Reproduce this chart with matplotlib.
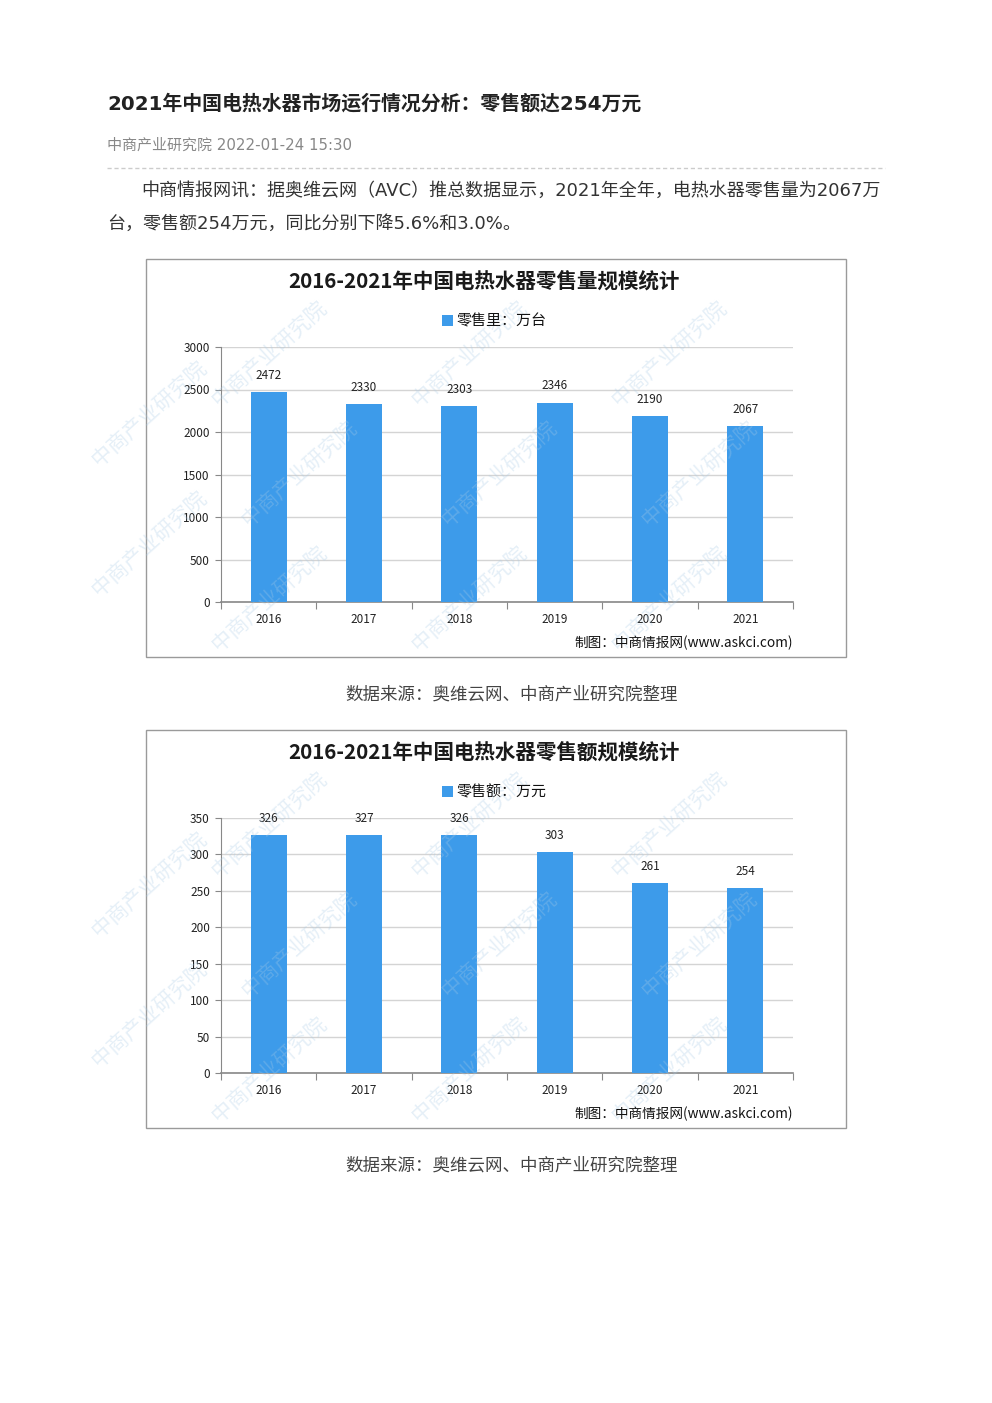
import matplotlib
matplotlib.use('Agg')
import matplotlib.pyplot as plt
from matplotlib.patches import Rectangle
from matplotlib.lines import Line2D

plt.rcParams['font.family'] = ['Noto Sans CJK SC', 'DejaVu Sans']
PAGE_FONT = ['DejaVu Sans', 'Noto Sans CJK SC']   # latin glyphs wider, like the page

# data
years = ['2016', '2017', '2018', '2019', '2020', '2021']
volume = [2472, 2330, 2303, 2346, 2190, 2067]      # 万台
revenue = [326, 327, 326, 303, 261, 254]           # 万元
volume_ticks = [0, 500, 1000, 1500, 2000, 2500, 3000]
revenue_ticks = [0, 50, 100, 150, 200, 250, 300, 350]

page_title = '2021年中国电热水器市场运行情况分析：零售额达254万元'
meta = '中商产业研究院 2022-01-24 15:30'
para1 = '中商情报网讯：据奥维云网（AVC）推总数据显示，2021年全年，电热水器零售量为2067万'
para2 = '台，零售额254万元，同比分别下降5.6%和3.0%。'
caption = '数据来源：奥维云网、中商产业研究院整理'

W, H = 992, 1403
BAR = '#3D9BEA'
fig = plt.figure(figsize=(W / 100, H / 100), dpi=100)


def px(x, y):
    # page pixel -> figure fraction
    return x / W, 1 - y / H


def chart(top, title, legend, values, ticks):
    # outer frame of the chart image
    fx, fy = px(146, top + 398)
    fig.patches.append(Rectangle((fx, fy), 700 / W, 398 / H, transform=fig.transFigure,
                                 fill=False, ec='#9a9a9a', lw=1.0))
    # faint watermarks
    for wx, wy in [(270, 95), (470, 95), (670, 95), (300, 215), (500, 215), (700, 215),
                   (270, 340), (470, 340), (670, 340), (150, 155), (150, 285)]:
        tx, ty = px(wx, top + wy)
        fig.text(tx, ty, '中商产业研究院', rotation=42, fontsize=15, color='#a9cbe6',
                 alpha=0.3, ha='center', va='center')
    tx, ty = px(484, top + 22)
    fig.text(tx, ty, title, ha='center', va='center', fontsize=14.8, fontweight='bold',
             color='#1a1a1a')
    lx, ly = px(442, top + 67)
    fig.patches.append(Rectangle((lx, ly), 11 / W, 11 / H, transform=fig.transFigure,
                                 fc=BAR, ec='none'))
    tx, ty = px(456, top + 62)
    fig.text(tx, ty, legend, ha='left', va='center', fontsize=10.8, color='#111111')
    tx, ty = px(793, top + 384)
    fig.text(tx, ty, '制图：中商情报网(www.askci.com)', ha='right', va='center',
             fontsize=9.8, color='#111111')

    bx, by = px(221, top + 343)
    ax = fig.add_axes([bx, by, 572 / W, 255 / H])
    ax.set_facecolor('none')
    x = range(len(years))
    ax.bar(x, values, width=0.38, color=BAR, zorder=3)
    ax.set_ylim(ticks[0], ticks[-1])
    ax.set_xlim(-0.5, len(years) - 0.5)
    ax.set_yticks(ticks)
    ax.set_yticklabels([str(t) for t in ticks], fontsize=8.5, color='#222222')
    ax.yaxis.grid(True, color='#d4d4d4', lw=1.0, zorder=0)
    ax.set_xticks([i - 0.5 for i in range(len(years) + 1)])
    ax.set_xticklabels([])
    ax.tick_params(axis='x', length=5, color='#888888', direction='out')
    ax.tick_params(axis='y', length=4, color='#888888', pad=4)
    for i, y in enumerate(years):
        ax.text(i, -0.07, y, transform=ax.get_xaxis_transform(), ha='center', va='center',
                fontsize=8.5, color='#222222')
    for i, v in enumerate(values):
        ax.annotate(str(v), (i, v), xytext=(0, 12), textcoords='offset points',
                    ha='center', va='center', fontsize=8.5, color='#222222')
    for s in ['top', 'right']:
        ax.spines[s].set_visible(False)
    ax.spines['left'].set_color('#888888')
    ax.spines['bottom'].set_color('#888888')
    ax.spines['bottom'].set_linewidth(1.2)
    return ax


# page header
tx, ty = px(107, 104)
fig.text(tx, ty, page_title, ha='left', va='center', fontsize=14.35, fontweight='bold',
         color='#222222', family=PAGE_FONT)
tx, ty = px(107, 145)
fig.text(tx, ty, meta, ha='left', va='center', fontsize=10.8, color='#888888', family=PAGE_FONT)
x0, y0 = px(107, 168)
x1, _ = px(885, 168)
fig.lines.append(Line2D([x0, x1], [y0, y0], transform=fig.transFigure, color='#cccccc',
                        lw=1.0, ls=(0, (3, 2))))
tx, ty = px(141, 191)
fig.text(tx, ty, para1, ha='left', va='center', fontsize=13.0, color='#333333', family=PAGE_FONT)
tx, ty = px(107, 224)
fig.text(tx, ty, para2, ha='left', va='center', fontsize=13.0, color='#333333', family=PAGE_FONT)

chart(259, '2016-2021年中国电热水器零售量规模统计', '零售里：万台', volume, volume_ticks)
tx, ty = px(512, 695)
fig.text(tx, ty, caption, ha='center', va='center', fontsize=12.6, color='#444444')

chart(730, '2016-2021年中国电热水器零售额规模统计', '零售额：万元', revenue, revenue_ticks)
tx, ty = px(512, 1166)
fig.text(tx, ty, caption, ha='center', va='center', fontsize=12.6, color='#444444')

fig.savefig('out.png', dpi=100, facecolor='white')
